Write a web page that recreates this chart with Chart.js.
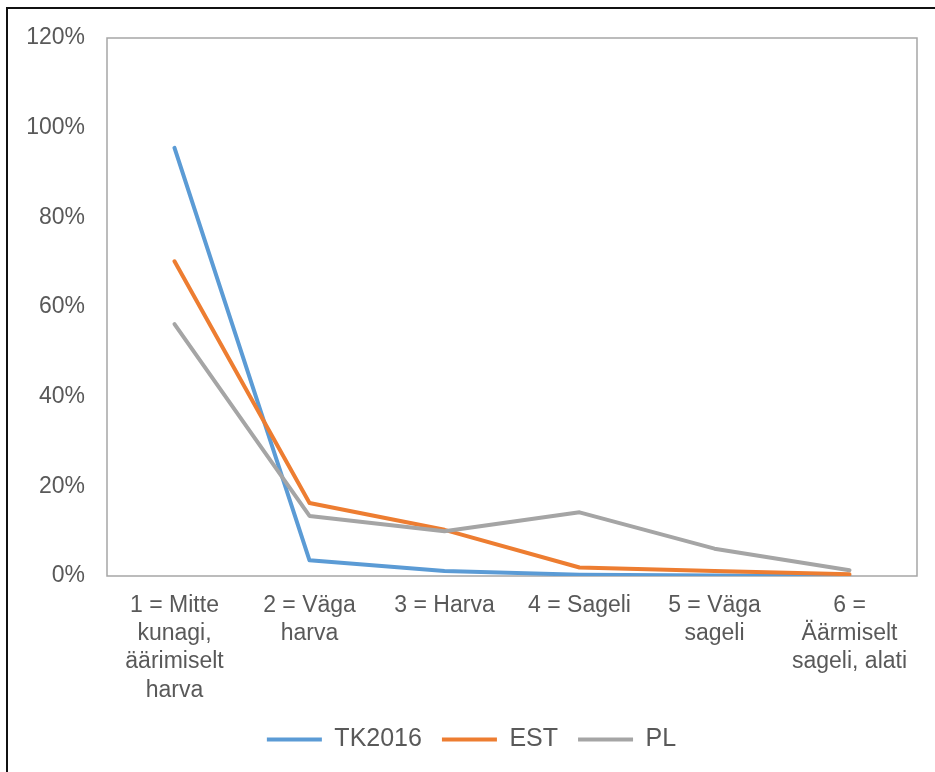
<!DOCTYPE html>
<html>
<head>
<meta charset="utf-8">
<script src="https://cdn.jsdelivr.net/npm/chart.js@4"></script>
<style>
  html, body { margin: 0; padding: 0; background: #fff; }
  #wrap { position: relative; width: 935px; height: 772px; }
</style>
</head>
<body>
<div id="wrap"><canvas id="chart"></canvas></div>
<script>
const categories = [
  ["1 = Mitte", "kunagi,", "äärimiselt", "harva"],
  ["2 = Väga", "harva"],
  ["3 = Harva"],
  ["4 = Sageli"],
  ["5 = Väga", "sageli"],
  ["6 =", "Äärmiselt", "sageli, alati"],
];
const tk2016 = [95.5, 3.5, 1.1, 0.3, 0.1, 0];
const est = [70.2, 16.3, 10.3, 1.9, 1.1, 0.4];
const pl = [56.2, 13.4, 10.0, 14.2, 6.1, 1.3];
const yTicks = [0, 20, 40, 60, 80, 100, 120];

const textColor = "#595959";
const fontFamily = "'Liberation Sans', Arial, sans-serif";

// plot frame + outer black frame (left and top only, as in the picture)
const framePlugin = {
  id: "frames",
  beforeDatasetsDraw(chart) {
    const { ctx, chartArea: a } = chart;
    ctx.save();
    ctx.strokeStyle = "#A6A6A6";
    ctx.lineWidth = 1.5;
    ctx.strokeRect(a.left, a.top, a.right - a.left, a.bottom - a.top);
    ctx.restore();
  },
  afterDraw(chart) {
    const ctx = chart.ctx;
    ctx.save();
    ctx.strokeStyle = "#111";
    ctx.lineWidth = 2;
    ctx.beginPath();
    ctx.moveTo(7, 772);
    ctx.lineTo(7, 8);
    ctx.lineTo(935, 8);
    ctx.stroke();
    ctx.restore();
  },
};

function makeSeries(label, data, color, order) {
  return {
    label: label,
    data: data,
    borderColor: color,
    backgroundColor: color,
    borderWidth: 4,
    borderCapStyle: "round",
    borderJoinStyle: "round",
    pointRadius: 0,
    pointHoverRadius: 0,
    pointStyle: "line",
    tension: 0,
    order: order,
  };
}

new Chart(document.getElementById("chart"), {
  type: "line",
  data: {
    labels: categories,
    datasets: [
      makeSeries("TK2016", tk2016, "#5B9BD5", 3),
      makeSeries("EST", est, "#ED7D31", 2),
      makeSeries("PL", pl, "#A5A5A5", 1),
    ],
  },
  options: {
    responsive: true,
    maintainAspectRatio: false,
    animation: false,
    layout: { padding: { left: 26, right: 18, top: 38, bottom: 10 } },
    scales: {
      x: {
        offset: true,
        grid: { display: false, drawTicks: false },
        border: { display: false },
        ticks: {
          color: textColor,
          font: { family: fontFamily, size: 23, lineHeight: 1.22 },
          maxRotation: 0,
          autoSkip: false,
          padding: 16,
        },
        afterFit(scale) {
          scale.height = 131;
        },
      },
      y: {
        min: 0,
        max: 120,
        grid: { display: false, drawTicks: false },
        border: { display: false },
        afterBuildTicks(scale) {
          scale.ticks = yTicks.map((v) => ({ value: v }));
        },
        ticks: {
          color: textColor,
          font: { family: fontFamily, size: 23 },
          padding: 22,
          callback: (v) => v + "%",
        },
        afterFit(scale) {
          scale.width = 81;
        },
      },
    },
    plugins: {
      legend: {
        position: "bottom",
        labels: {
          usePointStyle: true,
          pointStyleWidth: 55,
          color: textColor,
          font: { family: fontFamily, size: 25 },
          padding: 20,
          sort: (a, b) => a.datasetIndex - b.datasetIndex,
        },
      },
      tooltip: { enabled: false },
    },
  },
  plugins: [framePlugin],
});
</script>
</body>
</html>
